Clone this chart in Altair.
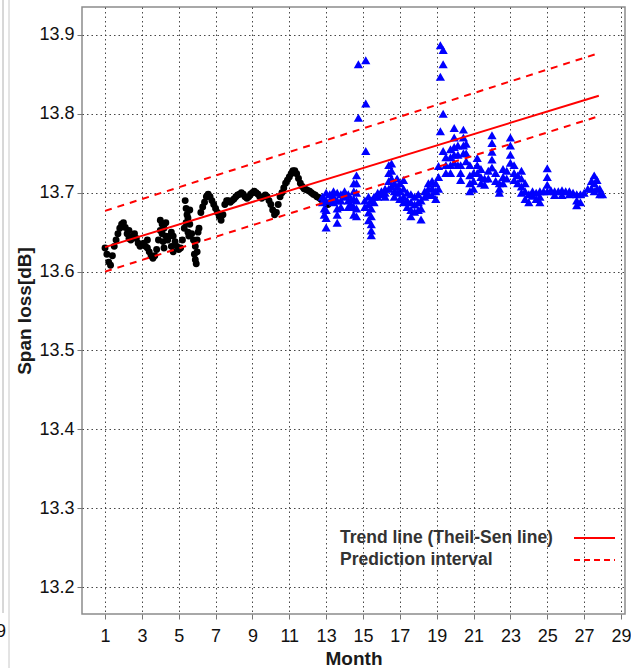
import altair as alt
import pandas as pd

# ---------------- data ----------------
black_month = [
    1.0, 1.1, 1.2, 1.3, 1.4, 1.5, 1.6, 1.7, 1.8, 1.9,
    2.0, 2.1, 2.2, 2.3, 2.4, 2.5, 2.6, 2.7, 2.8, 2.9,
    3.0, 3.1, 3.2, 3.3, 3.4, 3.5, 3.6, 3.7, 3.8, 3.9,
    4.0, 4.1, 4.2, 4.3, 4.4, 4.5, 4.6, 4.7, 4.8, 4.9,
    5.0, 5.1, 5.2, 5.3, 5.4, 5.5, 5.6, 5.7, 5.8, 5.9,
    6.0, 6.1, 6.2, 6.3, 6.4, 6.5, 6.6, 6.7, 6.8, 6.9,
    7.0, 7.1, 7.2, 7.3, 7.4, 7.5, 7.6, 7.7, 7.8, 7.9,
    8.0, 8.1, 8.2, 8.3, 8.4, 8.5, 8.6, 8.7, 8.8, 8.9,
    9.0, 9.1, 9.2, 9.3, 9.4, 9.5, 9.6, 9.7, 9.8, 9.9,
    10.0, 10.1, 10.2, 10.3, 10.4, 10.5, 10.6, 10.7, 10.8, 10.9,
    11.0, 11.1, 11.2, 11.3, 11.4, 11.5, 11.6, 11.7, 11.8, 11.9,
    12.0, 12.1, 12.2, 12.3, 12.4, 12.5, 12.6, 12.7, 12.8, 12.9,
    13.0, 13.1,
    # scattered points
    4.0, 4.1, 4.15, 4.2, 4.3, 4.6, 4.7, 5.35, 5.4, 5.45,
    5.5, 5.55, 5.6, 5.85, 5.9, 5.95, 6.0, 6.05, 3.3, 2.3,
]
black_value = [
    13.630, 13.622, 13.612, 13.608, 13.620, 13.632, 13.640, 13.648, 13.655, 13.660,
    13.662, 13.656, 13.648, 13.642, 13.640, 13.645, 13.648, 13.642, 13.636, 13.632,
    13.634, 13.636, 13.632, 13.630, 13.625, 13.620, 13.617, 13.620, 13.628, 13.640,
    13.652, 13.660, 13.655, 13.645, 13.640, 13.645, 13.650, 13.645, 13.638, 13.632,
    13.628, 13.630, 13.640, 13.655, 13.662, 13.668, 13.660, 13.648, 13.640, 13.632,
    13.625, 13.655, 13.675, 13.682, 13.688, 13.695, 13.698, 13.695, 13.690, 13.685,
    13.680, 13.675, 13.670, 13.665, 13.672, 13.685, 13.690, 13.690, 13.688, 13.690,
    13.692, 13.695, 13.697, 13.698, 13.700, 13.698, 13.695, 13.693, 13.695, 13.698,
    13.700, 13.702, 13.700, 13.698, 13.695, 13.693, 13.695, 13.697, 13.695, 13.690,
    13.685, 13.678, 13.672, 13.675, 13.685, 13.695, 13.700, 13.706, 13.712, 13.716,
    13.720, 13.724, 13.728, 13.728, 13.724, 13.718, 13.712, 13.708, 13.705, 13.704,
    13.703, 13.702, 13.700, 13.698, 13.697, 13.695, 13.694, 13.692, 13.690, 13.688,
    13.686, 13.685,
    13.665, 13.648, 13.638, 13.630, 13.662, 13.632, 13.625, 13.690, 13.680, 13.672,
    13.650, 13.645, 13.678, 13.622, 13.615, 13.610, 13.640, 13.650, 13.640, 13.652,
]

blue_month = [
    12.8, 12.8,
    12.9, 12.9, 12.9,
    13.0, 13.0, 13.0, 13.0, 13.0,
    13.2, 13.2,
    13.4, 13.4, 13.4,
    13.6, 13.6, 13.6, 13.6, 13.6,
    13.8, 13.8, 13.8,
    14.0, 14.0,
    14.2, 14.2, 14.2,
    14.35, 14.35,
    14.5, 14.5, 14.5, 14.5, 14.5,
    14.65, 14.65, 14.65, 14.65, 14.65, 14.65,
    14.75, 14.75,
    15.15, 15.15, 15.15,
    15.1, 15.1,
    15.3, 15.3, 15.3, 15.3,
    15.45, 15.45, 15.45, 15.45, 15.45, 15.45,
    15.6, 15.6,
    15.8, 15.8,
    16.0, 16.0,
    16.2, 16.2, 16.2,
    16.4, 16.4, 16.4, 16.4,
    16.55, 16.55, 16.55, 16.55,
    16.7, 16.7, 16.7,
    16.85, 16.85, 16.85,
    17.0, 17.0, 17.0,
    17.2, 17.2, 17.2, 17.2,
    17.4, 17.4, 17.4,
    17.6, 17.6, 17.6, 17.6,
    17.8, 17.8, 17.8,
    18.0, 18.0, 18.0,
    18.15, 18.15, 18.15,
    18.35, 18.35,
    18.55, 18.55, 18.55,
    18.75, 18.75, 18.75,
    18.95, 18.95, 18.95,
    19.1, 19.1, 19.1,
    19.2, 19.2, 19.2,
    19.35, 19.35, 19.35, 19.35,
    19.5, 19.5, 19.5,
    19.75, 19.75, 19.75, 19.75,
    19.95, 19.95, 19.95, 19.95, 19.95,
    20.15, 20.15, 20.15,
    20.3, 20.3, 20.3,
    20.45, 20.45, 20.45, 20.45,
    20.6, 20.6, 20.6,
    20.8, 20.8, 20.8, 20.8,
    21.0, 21.0, 21.0,
    21.2, 21.2, 21.2,
    21.4, 21.4, 21.4,
    21.6, 21.6,
    21.8, 21.8,
    22.0, 22.0, 22.0, 22.0, 22.0,
    22.2, 22.2,
    22.4, 22.4, 22.4,
    22.6, 22.6, 22.6,
    22.8, 22.8,
    23.0, 23.0, 23.0, 23.0,
    23.2, 23.2, 23.2,
    23.4, 23.4,
    23.6, 23.6, 23.6, 23.6,
    23.8, 23.8, 23.8,
    24.0, 24.0,
    24.2, 24.2,
    24.4, 24.4,
    24.6, 24.6, 24.6,
    24.8,
    25.0, 25.0, 25.0, 25.0,
    25.2,
    25.4, 25.4,
    25.6,
    25.8, 25.8,
    26.0,
    26.2, 26.2,
    26.4,
    26.6, 26.6, 26.6,
    26.8, 26.8,
    27.0,
    27.2,
    27.4, 27.4,
    27.55, 27.55, 27.55,
    27.7, 27.7,
    27.85, 27.85,
    28.0,
]
blue_value = [
    13.695, 13.688,
    13.692, 13.680, 13.672,
    13.700, 13.690, 13.678, 13.668, 13.656,
    13.698, 13.690,
    13.702, 13.695, 13.688,
    13.700, 13.690, 13.680, 13.672, 13.662,
    13.698, 13.690, 13.682,
    13.702, 13.695,
    13.698, 13.690, 13.682,
    13.692, 13.685,
    13.712, 13.702, 13.692, 13.682, 13.672,
    13.722, 13.712, 13.700, 13.690, 13.680, 13.670,
    13.863, 13.795,
    13.868, 13.813, 13.753,
    13.690, 13.682,
    13.695, 13.685, 13.675, 13.665,
    13.690, 13.680, 13.670, 13.660, 13.652, 13.646,
    13.695, 13.688,
    13.700, 13.695,
    13.702, 13.698,
    13.705, 13.700, 13.695,
    13.735, 13.725, 13.715, 13.705,
    13.737, 13.728, 13.718, 13.708,
    13.712, 13.702, 13.695,
    13.718, 13.708, 13.700,
    13.712, 13.702, 13.692,
    13.716, 13.705, 13.695, 13.688,
    13.700, 13.690, 13.682,
    13.698, 13.688, 13.678, 13.670,
    13.695, 13.685, 13.676,
    13.698, 13.688, 13.678,
    13.690, 13.680, 13.666,
    13.702, 13.695,
    13.712, 13.705, 13.698,
    13.715, 13.706, 13.697,
    13.712, 13.702, 13.692,
    13.734, 13.720, 13.705,
    13.887, 13.847, 13.778,
    13.881, 13.863, 13.800, 13.753,
    13.745, 13.735, 13.725,
    13.755, 13.745, 13.735, 13.725,
    13.782, 13.770, 13.758, 13.748, 13.738,
    13.760, 13.748, 13.735,
    13.735, 13.725, 13.716,
    13.780, 13.770, 13.760, 13.750,
    13.762, 13.750, 13.740,
    13.735, 13.722, 13.712, 13.702,
    13.725, 13.715, 13.705,
    13.744, 13.735, 13.725,
    13.730, 13.720, 13.712,
    13.718, 13.710,
    13.728, 13.718,
    13.773, 13.763, 13.752, 13.742, 13.732,
    13.725, 13.715,
    13.712, 13.705, 13.700,
    13.730, 13.720, 13.712,
    13.728, 13.718,
    13.770, 13.760, 13.748, 13.738,
    13.735, 13.725, 13.716,
    13.722, 13.712,
    13.728, 13.718, 13.708, 13.700,
    13.712, 13.702, 13.692,
    13.698, 13.688,
    13.702, 13.696,
    13.700, 13.692,
    13.702, 13.695, 13.688,
    13.702,
    13.731, 13.720, 13.710, 13.702,
    13.703,
    13.702, 13.697,
    13.702,
    13.703, 13.697,
    13.702,
    13.702, 13.698,
    13.700,
    13.698, 13.690, 13.684,
    13.698, 13.688,
    13.700,
    13.705,
    13.715, 13.705,
    13.722, 13.712, 13.702,
    13.716, 13.705,
    13.705, 13.698,
    13.698,
]

trend_month = [1.0, 27.8]
trend_value = [13.631, 13.823]
upper_value = [13.677, 13.877]
lower_value = [13.600, 13.797]

x_ticks = [1, 3, 5, 7, 9, 11, 13, 15, 17, 19, 21, 23, 25, 27, 29]
y_ticks = [13.2, 13.3, 13.4, 13.5, 13.6, 13.7, 13.8, 13.9]
legend_labels = ["Trend line (Theil-Sen line)", "Prediction interval"]

# ---------------- chart ----------------
FONT = "Liberation Sans"
W, H = 543, 607

black_df = pd.DataFrame({"month": black_month, "value": black_value})
blue_df = pd.DataFrame({"month": blue_month, "value": blue_value})
line_df = pd.DataFrame({"month": trend_month, "trend": trend_value,
                        "upper": upper_value, "lower": lower_value})

xscale = alt.Scale(domain=[-0.25, 29.22], nice=False, zero=False)
yscale = alt.Scale(domain=[13.1658, 13.9355], nice=False, zero=False)

xaxis = alt.Axis(values=x_ticks, title="Month", format="d",
                 labelFlush=False, labelOverlap=False, labelBound=False)
yaxis = alt.Axis(values=y_ticks, title="Span loss[dB]", format=".1f", labelOverlap=False)


def X():
    return alt.X("month:Q", scale=xscale, axis=xaxis)


def Y(field):
    return alt.Y(field, scale=yscale, axis=yaxis)


black = alt.Chart(black_df).mark_circle(size=48, color="black", opacity=1).encode(
    x=X(), y=Y("value:Q"))

blue = alt.Chart(blue_df).mark_point(
    shape="triangle-up", filled=True, size=85, color="#0000ff", opacity=1
).encode(x=X(), y=Y("value:Q"))

trend = alt.Chart(line_df).mark_line(color="#ff0000", strokeWidth=2).encode(
    x=X(), y=Y("trend:Q"))
upper = alt.Chart(line_df).mark_line(color="#ff0000", strokeWidth=2, strokeDash=[7, 6]).encode(
    x=X(), y=Y("upper:Q"))
lower = alt.Chart(line_df).mark_line(color="#ff0000", strokeWidth=2, strokeDash=[7, 6]).encode(
    x=X(), y=Y("lower:Q"))

lab1 = alt.Chart(pd.DataFrame({"label": [legend_labels[0]]})).mark_text(
    align="left", baseline="middle", font=FONT, fontSize=17.5, fontWeight="bold", color="#333333"
).encode(x=alt.value(258), y=alt.value(531), text="label:N")
lab2 = alt.Chart(pd.DataFrame({"label": [legend_labels[1]]})).mark_text(
    align="left", baseline="middle", font=FONT, fontSize=17.5, fontWeight="bold", color="#333333"
).encode(x=alt.value(258), y=alt.value(553), text="label:N")
sw1 = alt.Chart(pd.DataFrame({"label": [legend_labels[0]]})).mark_rule(
    color="#ff0000", strokeWidth=2
).encode(x=alt.value(492), x2=alt.value(533), y=alt.value(531))
sw2 = alt.Chart(pd.DataFrame({"label": [legend_labels[1]]})).mark_rule(
    color="#ff0000", strokeWidth=2, strokeDash=[6, 4]
).encode(x=alt.value(492), x2=alt.value(533), y=alt.value(553))

# remnants of a neighbouring panel at the far left edge
edge1 = alt.Chart(pd.DataFrame({"label": ["edge"]})).mark_rule(
    color="#b0b0b0", strokeWidth=1
).encode(x=alt.value(-79), y=alt.value(-7), y2=alt.value(606))
edge2 = alt.Chart(pd.DataFrame({"label": ["edge"]})).mark_rule(
    color="#c8c8c8", strokeWidth=1
).encode(x=alt.value(-73), y=alt.value(-7), y2=alt.value(661))
edge_txt = alt.Chart(pd.DataFrame({"label": ["29"]})).mark_text(
    align="right", baseline="middle", font=FONT, fontSize=18, color="#111111"
).encode(x=alt.value(-76), y=alt.value(625), text="label:N")

chart = alt.layer(
    black, blue, trend, upper, lower, lab1, lab2, sw1, sw2, edge1, edge2, edge_txt
).properties(
    width=W, height=H,
    autosize=alt.AutoSizeParams(type="none"),
    padding={"left": 82, "top": 7, "right": 6, "bottom": 54},
    background="white",
).configure_view(
    stroke="#8c8c8c", strokeWidth=1.5
).configure_axis(
    grid=True, gridColor="#333333", gridDash=[1.5, 3], gridWidth=1, gridOpacity=0.9,
    domain=False, tickColor="#777777", tickSize=5, tickWidth=1,
    labelFont=FONT, labelFontSize=18, labelColor="#111111", labelOverlap=False,
    titleFont=FONT, titleFontSize=19, titleFontWeight="bold", titleColor="#1a1a1a",
).configure_axisX(
    labelPadding=8, titlePadding=4, labelOverlap=False,
).configure_axisY(
    labelPadding=3, titlePadding=4,
)

chart.save("out.html", embed_options={"renderer": "svg", "actions": False})
